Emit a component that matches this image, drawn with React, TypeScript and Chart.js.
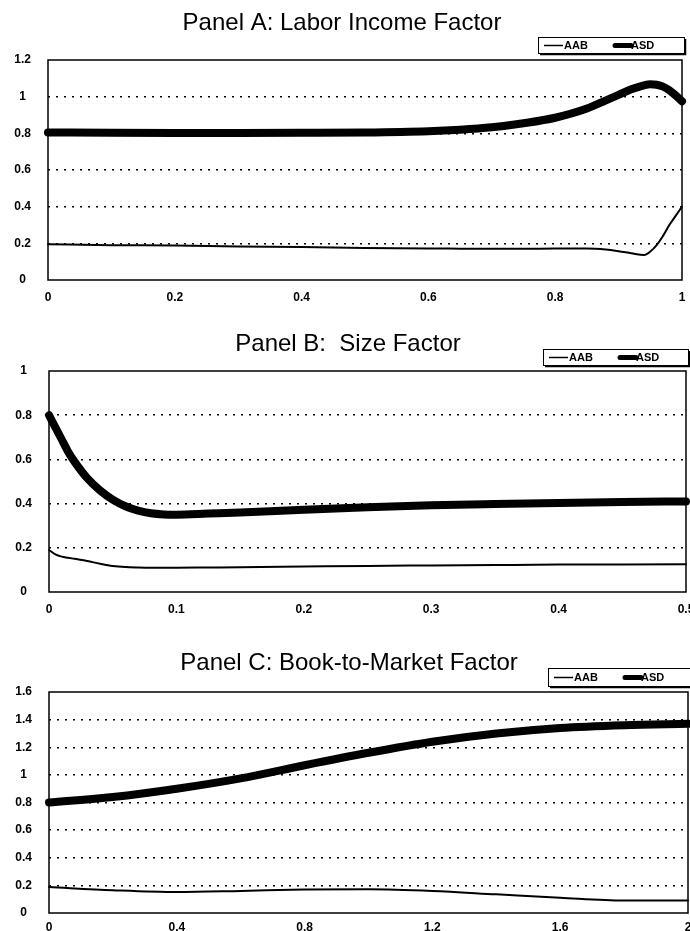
import React, { useEffect, useRef } from 'react';
import { Chart, registerables } from 'chart.js';
Chart.register(...registerables);

// ---------- Data ----------
const seriesNames = ['AAB', 'ASD'];
const panelTitles = [
  'Panel A: Labor Income Factor',
  'Panel B:  Size Factor',
  'Panel C: Book-to-Market Factor',
];

// Panel A: Labor Income Factor
const panelAX = [0, 0.1, 0.2, 0.3, 0.4, 0.5, 0.6, 0.65, 0.7, 0.75, 0.8, 0.85, 0.88, 0.9, 0.92, 0.94, 0.95, 0.96, 0.97, 0.98, 0.99, 1.0];
const panelAAAB = [0.195, 0.19, 0.188, 0.183, 0.18, 0.175, 0.172, 0.171, 0.17, 0.17, 0.172, 0.172, 0.166, 0.157, 0.146, 0.136, 0.155, 0.19, 0.24, 0.3, 0.35, 0.4];
const panelAASD = [0.805, 0.803, 0.802, 0.802, 0.803, 0.805, 0.812, 0.82, 0.833, 0.855, 0.885, 0.935, 0.98, 1.01, 1.04, 1.062, 1.068, 1.065, 1.055, 1.035, 1.007, 0.975];
const panelAXTicks = ['0', '0.2', '0.4', '0.6', '0.8', '1'];
const panelAYTicks = ['0', '0.2', '0.4', '0.6', '0.8', '1', '1.2'];

// Panel B: Size Factor
const panelBX = [0, 0.005, 0.01, 0.015, 0.02, 0.03, 0.04, 0.05, 0.06, 0.07, 0.08, 0.09, 0.1, 0.125, 0.15, 0.2, 0.25, 0.3, 0.35, 0.4, 0.45, 0.5];
const panelBAAB = [0.19, 0.17, 0.16, 0.155, 0.15, 0.14, 0.128, 0.118, 0.113, 0.111, 0.11, 0.11, 0.11, 0.111, 0.112, 0.115, 0.118, 0.12, 0.122, 0.124, 0.125, 0.126];
const panelBASD = [0.8, 0.745, 0.69, 0.635, 0.59, 0.515, 0.46, 0.418, 0.388, 0.368, 0.356, 0.351, 0.35, 0.355, 0.36, 0.372, 0.383, 0.392, 0.398, 0.403, 0.407, 0.41];
const panelBXTicks = ['0', '0.1', '0.2', '0.3', '0.4', '0.5'];
const panelBYTicks = ['0', '0.2', '0.4', '0.6', '0.8', '1'];

// Panel C: Book-to-Market Factor
const panelCX = [0, 0.2, 0.4, 0.6, 0.8, 1.0, 1.2, 1.4, 1.6, 1.8, 2.0];
const panelCAAB = [0.188, 0.165, 0.152, 0.16, 0.17, 0.172, 0.16, 0.135, 0.11, 0.09, 0.09];
const panelCASD = [0.8, 0.84, 0.9, 0.975, 1.07, 1.16, 1.24, 1.3, 1.34, 1.36, 1.37];
const panelCXTicks = ['0', '0.4', '0.8', '1.2', '1.6', '2'];
const panelCYTicks = ['0', '0.2', '0.4', '0.6', '0.8', '1', '1.2', '1.4', '1.6'];

// ---------- Layout (positions/styles, not data) ----------
type PanelLayout = {
  top: number; height: number;
  left: number; right: number; areaTop: number; areaBottom: number;
  titleX: number; titleY: number;
  legendX: number; legendY: number; legendW: number; legendH: number;
  xPad: number;
};

const W = 690;
const FONT = "'Liberation Sans', Arial, sans-serif";

const layouts: PanelLayout[] = [
  { top: 0, height: 310, left: 48, right: 682, areaTop: 60, areaBottom: 280, titleX: 342, titleY: 23, legendX: 538, legendY: 37, legendW: 146, legendH: 16, xPad: 10 },
  { top: 310, height: 310, left: 49, right: 686, areaTop: 61, areaBottom: 282, titleX: 348, titleY: 34, legendX: 543, legendY: 39, legendW: 145, legendH: 16, xPad: 10 },
  { top: 620, height: 311, left: 49, right: 688, areaTop: 72, areaBottom: 293, titleX: 349, titleY: 43, legendX: 548, legendY: 48, legendW: 145, legendH: 18, xPad: 7 },
];

type PanelData = {
  x: number[]; aab: number[]; asd: number[];
  xTicks: string[]; yTicks: string[];
  xMin: number; xMax: number; xStep: number;
  yMin: number; yMax: number; yStep: number;
};

const panels: PanelData[] = [
  { x: panelAX, aab: panelAAAB, asd: panelAASD, xTicks: panelAXTicks, yTicks: panelAYTicks, xMin: 0, xMax: 1, xStep: 0.2, yMin: 0, yMax: 1.2, yStep: 0.2 },
  { x: panelBX, aab: panelBAAB, asd: panelBASD, xTicks: panelBXTicks, yTicks: panelBYTicks, xMin: 0, xMax: 0.5, xStep: 0.1, yMin: 0, yMax: 1, yStep: 0.2 },
  { x: panelCX, aab: panelCAAB, asd: panelCASD, xTicks: panelCXTicks, yTicks: panelCYTicks, xMin: 0, xMax: 2, xStep: 0.4, yMin: 0, yMax: 1.6, yStep: 0.2 },
];

const X_AXIS_H = 24;

function decorPlugin(title: string, lay: PanelLayout) {
  return {
    id: 'decor',
    afterDraw(chart: any) {
      const ctx = chart.ctx as CanvasRenderingContext2D;
      const a = chart.chartArea;
      ctx.save();
      // frame
      ctx.strokeStyle = '#000';
      ctx.lineWidth = 1.5;
      ctx.strokeRect(a.left, a.top, a.right - a.left, a.bottom - a.top);
      // title
      ctx.fillStyle = '#000';
      ctx.font = `24px ${FONT}`;
      ctx.textAlign = 'center';
      ctx.textBaseline = 'middle';
      ctx.fillText(title, lay.titleX, lay.titleY);
      // legend box
      const lx = lay.legendX, ly = lay.legendY, lw = lay.legendW, lh = lay.legendH;
      ctx.fillStyle = '#fff';
      ctx.fillRect(lx, ly, lw, lh);
      ctx.lineWidth = 1;
      ctx.strokeStyle = '#000';
      ctx.strokeRect(lx + 0.5, ly + 0.5, lw, lh);
      ctx.lineWidth = 1.5;
      ctx.beginPath();
      ctx.moveTo(lx + lw + 1.5, ly + 2);
      ctx.lineTo(lx + lw + 1.5, ly + lh + 1.5);
      ctx.lineTo(lx + 2, ly + lh + 1.5);
      ctx.stroke();
      const cy = ly + lh / 2 + 0.5;
      // AAB sample
      ctx.lineWidth = 1.5;
      ctx.beginPath();
      ctx.moveTo(lx + 6, cy);
      ctx.lineTo(lx + 25, cy);
      ctx.stroke();
      // ASD sample
      ctx.lineWidth = 5;
      ctx.lineCap = 'round';
      ctx.beginPath();
      ctx.moveTo(lx + 77, cy);
      ctx.lineTo(lx + 93, cy);
      ctx.stroke();
      ctx.fillStyle = '#000';
      ctx.font = `bold 11px ${FONT}`;
      ctx.textAlign = 'left';
      ctx.textBaseline = 'middle';
      ctx.fillText(seriesNames[0], lx + 26, cy + 0.5);
      ctx.fillText(seriesNames[1], lx + 93, cy + 0.5);
      ctx.restore();
    },
  };
}

function makeConfig(p: PanelData, lay: PanelLayout, title: string): any {
  const toPts = (ys: number[]) => p.x.map((x, i) => ({ x, y: ys[i] }));
  const tickFont = { family: FONT, size: 12, weight: 'bold' as const };
  return {
    type: 'line',
    data: {
      datasets: [
        {
          label: seriesNames[0],
          data: toPts(p.aab),
          borderColor: '#000',
          borderWidth: 2,
          pointRadius: 0,
          cubicInterpolationMode: 'monotone',
          clip: false,
          borderCapStyle: 'round',
        },
        {
          label: seriesNames[1],
          data: toPts(p.asd),
          borderColor: '#000',
          borderWidth: 8,
          pointRadius: 0,
          cubicInterpolationMode: 'monotone',
          clip: false,
          borderCapStyle: 'round',
          borderJoinStyle: 'round',
        },
      ],
    },
    options: {
      responsive: false,
      animation: false,
      devicePixelRatio: 1,
      layout: {
        padding: {
          top: lay.areaTop,
          left: 0,
          right: W - lay.right,
          bottom: lay.height - lay.areaBottom - X_AXIS_H,
        },
      },
      plugins: {
        legend: { display: false },
        title: { display: false },
        tooltip: { enabled: false },
      },
      scales: {
        x: {
          type: 'linear',
          min: p.xMin,
          max: p.xMax,
          border: { display: false },
          grid: { display: false, drawTicks: false },
          ticks: {
            stepSize: p.xStep,
            padding: lay.xPad,
            maxRotation: 0,
            autoSkip: false,
            color: '#000',
            font: tickFont,
            callback: (_v: any, i: number) => p.xTicks[i],
          },
          afterFit: (s: any) => {
            s.height = X_AXIS_H;
            s.paddingLeft = 0;
            s.paddingRight = 0;
          },
        },
        y: {
          type: 'linear',
          min: p.yMin,
          max: p.yMax,
          border: { display: false, dash: [2, 6] },
          grid: {
            drawTicks: false,
            lineWidth: 1.5,
            color: (c: any) => {
              const n = p.yTicks.length - 1;
              return c.index === 0 || c.index === n ? 'rgba(0,0,0,0)' : '#000';
            },
          },
          ticks: {
            stepSize: p.yStep,
            padding: 17,
            crossAlign: 'center',
            autoSkip: false,
            color: '#000',
            font: tickFont,
            callback: (_v: any, i: number) => p.yTicks[i],
          },
          afterFit: (s: any) => {
            s.width = lay.left;
            s.paddingTop = 0;
            s.paddingBottom = 0;
          },
        },
      },
    },
    plugins: [decorPlugin(title, lay)],
  };
}

function Panel({ idx }: { idx: number }) {
  const ref = useRef<HTMLCanvasElement | null>(null);
  const lay = layouts[idx];
  useEffect(() => {
    if (!ref.current) return;
    const chart = new Chart(ref.current, makeConfig(panels[idx], lay, panelTitles[idx]));
    return () => chart.destroy();
  }, [idx]);
  return (
    <canvas
      ref={ref}
      width={W}
      height={lay.height}
      style={{ position: 'absolute', left: 0, top: lay.top, width: W, height: lay.height }}
    />
  );
}

export default function App() {
  return (
    <div style={{ position: 'absolute', left: 0, top: 0, width: W, height: 931, background: '#fff', overflow: 'hidden' }}>
      <Panel idx={0} />
      <Panel idx={1} />
      <Panel idx={2} />
    </div>
  );
}
